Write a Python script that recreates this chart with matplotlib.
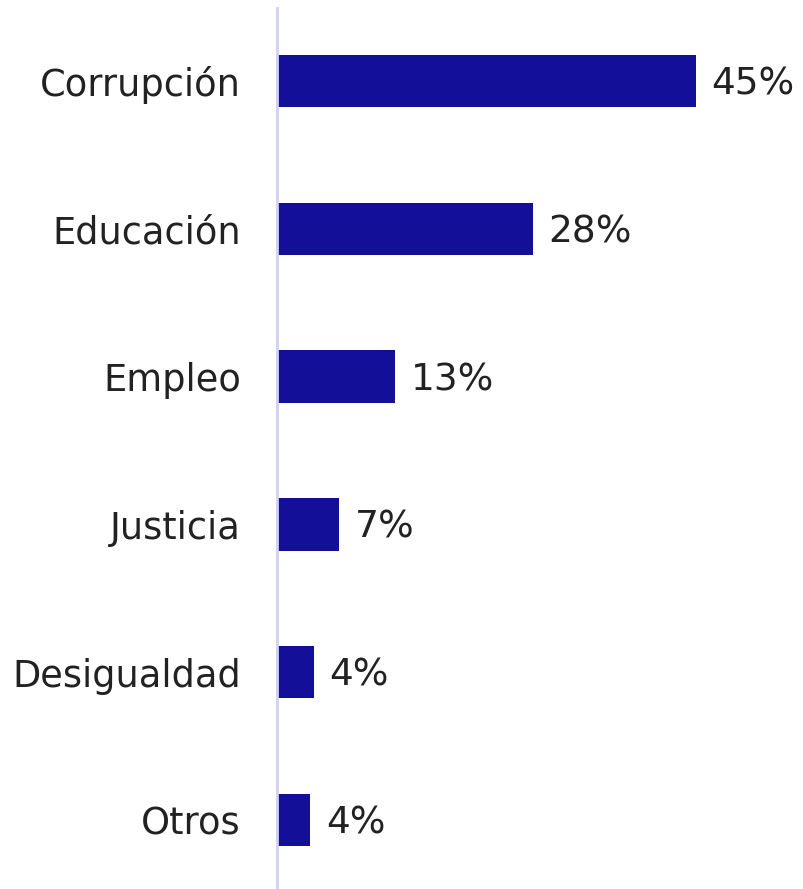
import matplotlib.pyplot as plt

categories = ['Corrupción', 'Educación', 'Empleo', 'Justicia', 'Desigualdad', 'Otros']
values = [45, 27.5, 12.7, 6.7, 4.0, 3.6]
labels = ['45%', '28%', '13%', '7%', '4%', '4%']

bar_color = '#140f99'
text_color = '#222222'

fig = plt.figure(figsize=(8.04, 8.89), dpi=100)
ax = fig.add_axes([0.3445, 0.0, 0.6555, 0.991])

y = range(len(categories))
ax.barh(y, values, height=0.355, color=bar_color)

for yi, v, lab in zip(y, values, labels):
    ax.annotate(lab, (v, yi), xytext=(11, -2.5), textcoords='offset points',
                va='center', ha='left', fontsize=27, color=text_color)

ax.set_xlim(0, 56.6)
ax.set_ylim(5.467, -0.494)
ax.set_yticks(list(y))
ax.set_yticklabels(categories, fontsize=26.5, color=text_color)
ax.tick_params(axis='y', length=0, pad=26)
ax.set_xticks([])

for side in ['top', 'right', 'bottom']:
    ax.spines[side].set_visible(False)
ax.spines['left'].set_color('#d0d0f4')
ax.spines['left'].set_linewidth(2)

fig.savefig('out.png', dpi=100)
